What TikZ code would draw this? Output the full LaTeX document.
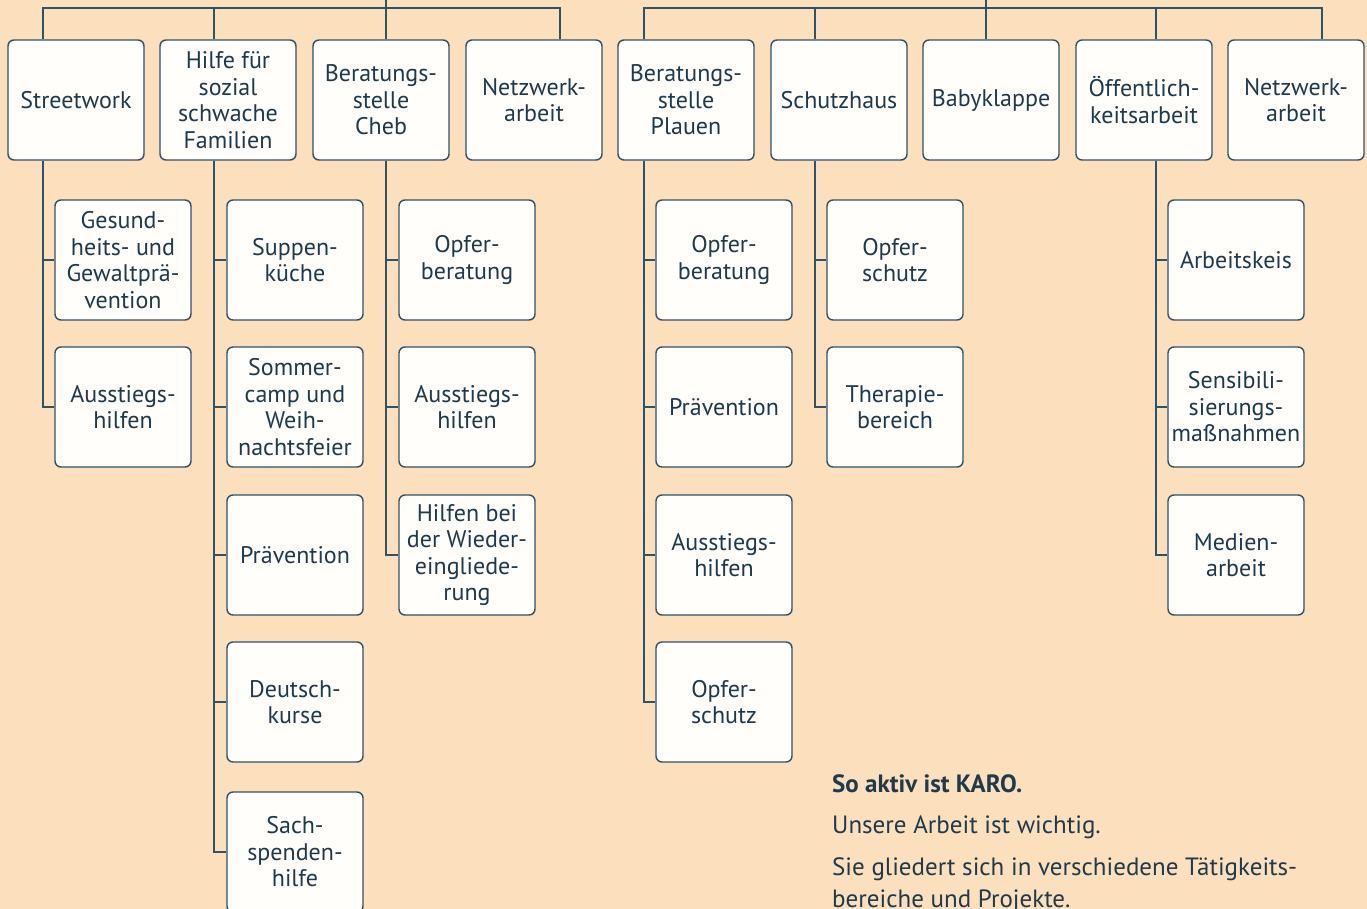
\documentclass[tikz,border=0pt]{standalone}
\usepackage{fontspec}
\setmainfont{PT Sans}
\definecolor{bg}{RGB}{252,223,188}
\definecolor{ln}{RGB}{46,82,102}
\definecolor{tx}{RGB}{30,58,76}
\definecolor{bx}{RGB}{255,254,250}
\tikzset{
  box/.style={draw=ln, line width=1.4pt, fill=bx, rounded corners=6pt,
    minimum width=136pt, minimum height=120pt, inner sep=1pt, align=center,
    text=tx, font=\fontsize{24}{26.5}\selectfont},
  conn/.style={draw=ln, line width=2.5pt},
  para/.style={anchor=base west, inner sep=0pt, text=tx, font=\fontsize{25}{26}\selectfont}
}
\begin{document}
\begin{tikzpicture}[x=1pt,y=-1pt]
\fill[bg] (0,0) rectangle (1367,909);
\useasboundingbox (0,0) rectangle (1367,909);
% top-level boxes
\node[box] (sw)  at (76,100)   {Streetwork};
\node[box] (hf)  at (228,100)  {Hilfe für\\sozial\\schwache\\Familien};
\node[box] (bc)  at (381,100)  {Beratungs-\\stelle\\Cheb};
\node[box] (nw1) at (534,100)  {Netzwerk-\\arbeit};
\node[box] (bp)  at (686,100)  {Beratungs-\\stelle\\Plauen};
\node[box] (sh)  at (839,100)  {Schutzhaus};
\node[box] (bk)  at (991,100)  {Babyklappe};
\node[box] (oa)  at (1144,100) {Öffentlich-\\keitsarbeit};
\node[box] (nw2) at (1296,100) {Netzwerk-\\arbeit};
% root coordinates
\coordinate (r1) at (386,0);
\coordinate (r2) at (986,0);
\coordinate (h1) at (386,8);
\coordinate (h2) at (986,8);
% top connectors
\draw[conn] (r1) -- (h1);
\draw[conn] (r2) -- (h2);
\draw[conn] (sw.north -| 43,0) |- (h1) -| (nw1.north -| 560,0);
\draw[conn] (hf.north -| 214,0) -- (214,8);
\draw[conn] (bc.north -| 386,0) -- (h1);
\draw[conn] (bp.north -| 644,0) |- (h2) -| (nw2.north -| 1322,0);
\draw[conn] (sh.north -| 815,0) -- (815,8);
\draw[conn] (bk.north -| 986,0) -- (h2);
\draw[conn] (oa.north -| 1156,0) -- (1156,8);
% children
\node[box] (sw1) at (123,260) {Gesund-\\heits- und\\Gewaltprä-\\vention};
\node[box] (sw2) at (123,407) {Ausstiegs-\\hilfen};
\node[box] (hf1) at (295,260) {Suppen-\\küche};
\node[box] (hf2) at (295,407) {Sommer-\\camp und\\Weih-\\nachtsfeier};
\node[box] (hf3) at (295,555) {Prävention};
\node[box] (hf4) at (295,702) {Deutsch-\\kurse};
\node[box] (hf5) at (295,852) {Sach-\\spenden-\\hilfe};
\node[box] (bc1) at (467,260) {Opfer-\\beratung};
\node[box] (bc2) at (467,407) {Ausstiegs-\\hilfen};
\node[box] (bc3) at (467,555) {Hilfen bei\\der Wieder-\\eingliede-\\rung};
\node[box] (bp1) at (724,260) {Opfer-\\beratung};
\node[box] (bp2) at (724,407) {Prävention};
\node[box] (bp3) at (724,555) {Ausstiegs-\\hilfen};
\node[box] (bp4) at (724,702) {Opfer-\\schutz};
\node[box] (sh1) at (895,260) {Opfer-\\schutz};
\node[box] (sh2) at (895,407) {Therapie-\\bereich};
\node[box] (oa1) at (1236,260) {Arbeitskeis};
\node[box] (oa2) at (1236,407) {Sensibili-\\sierungs-\\maßnahmen};
\node[box] (oa3) at (1236,555) {Medien-\\arbeit};
% child connectors
\foreach \p/\x/\c in {sw/43/sw1, sw/43/sw2,
  hf/214/hf1, hf/214/hf2, hf/214/hf3, hf/214/hf4, hf/214/hf5,
  bc/386/bc1, bc/386/bc2, bc/386/bc3,
  bp/644/bp1, bp/644/bp2, bp/644/bp3, bp/644/bp4,
  sh/815/sh1, sh/815/sh2,
  oa/1156/oa1, oa/1156/oa2, oa/1156/oa3}
  \draw[conn] (\p.south -| \x,0) |- (\c.west);
% text
\node[para, font=\fontsize{25}{26}\selectfont\bfseries] (t1) at (832,792) {So aktiv ist KARO.};
\node[para] (t2) at (832,833) {Unsere Arbeit ist wichtig.};
\node[para] (t3) at (832,875) {Sie gliedert sich in verschiedene Tätigkeits-};
\node[para] (t4) at (832,907) {bereiche und Projekte.};
\end{tikzpicture}
\end{document}
